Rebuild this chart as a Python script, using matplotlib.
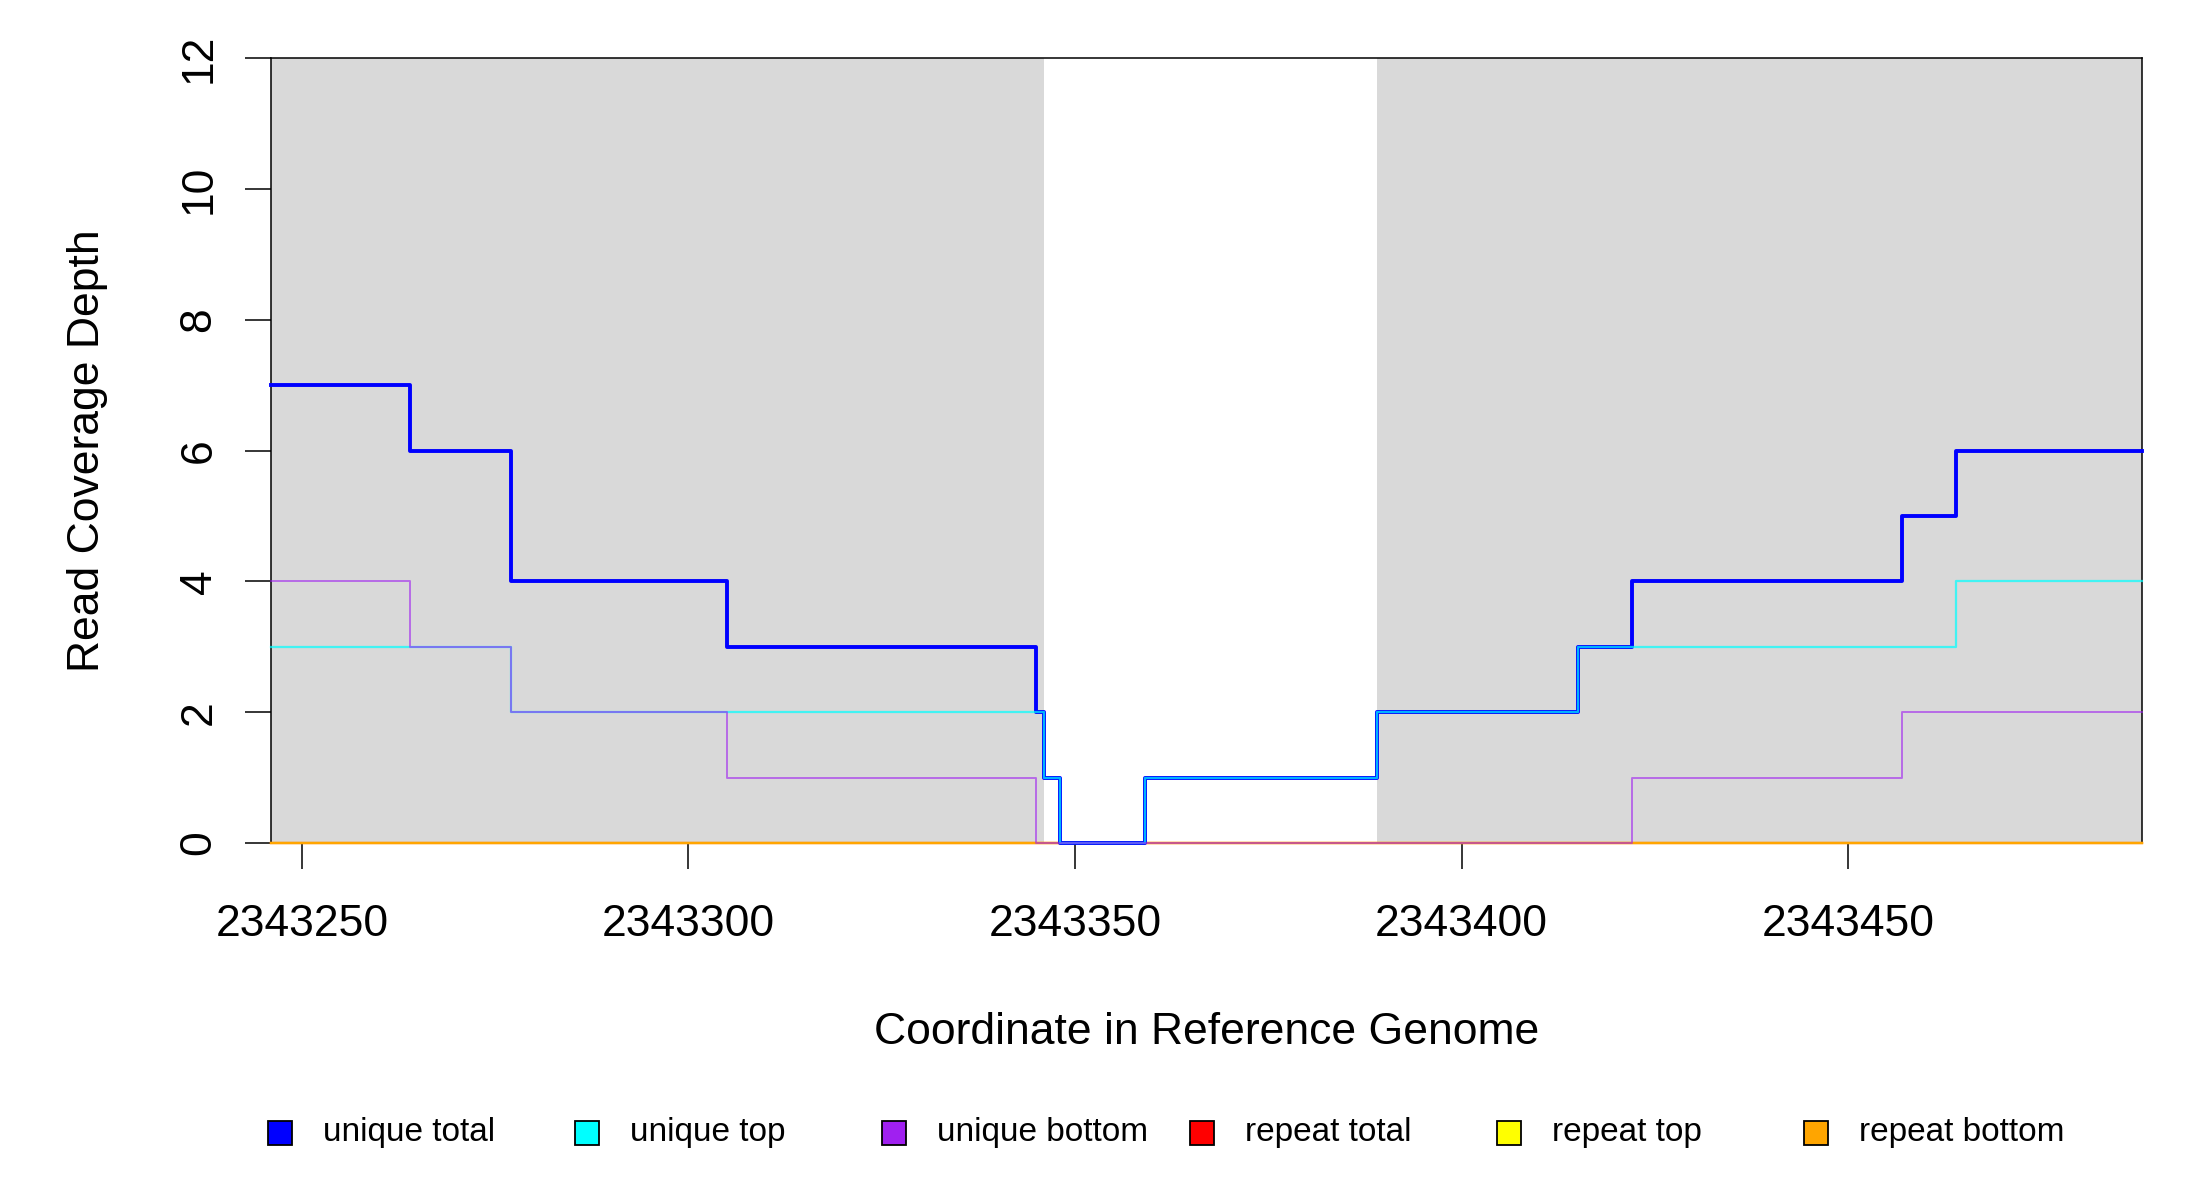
import matplotlib
matplotlib.use('Agg')
import matplotlib.pyplot as plt
from matplotlib.patches import Rectangle

plt.rcParams['font.family'] = ['Liberation Sans', 'DejaVu Sans']

# coverage breakpoints (step starts) and depths
positions = [2343246, 2343264, 2343277, 2343305, 2343345, 2343346, 2343348,
             2343359, 2343389, 2343415, 2343422, 2343457, 2343464, 2343488]
unique_total = [7, 6, 4, 3, 2, 1, 0, 1, 2, 3, 4, 5, 6, 6]
unique_top = [3, 3, 2, 2, 2, 1, 0, 1, 2, 3, 3, 3, 4, 4]
unique_bottom = [4, 3, 2, 1, 0, 0, 0, 0, 0, 0, 1, 2, 2, 2]
repeat_total = [0, 0, 0, 0, 0, 0, 0, 0, 0, 0, 0, 0, 0, 0]
repeat_top = [0, 0, 0, 0, 0, 0, 0, 0, 0, 0, 0, 0, 0, 0]
repeat_bottom = [0, 0, 0, 0, 0, 0, 0, 0, 0, 0, 0, 0, 0, 0]

# shaded (gray) regions
shade_starts = [2343246, 2343389]
shade_ends = [2343346, 2343488]

x_ticks = [2343250, 2343300, 2343350, 2343400, 2343450]
y_ticks = [0, 2, 4, 6, 8, 10, 12]

legend_labels = ['unique total', 'unique top', 'unique bottom',
                 'repeat total', 'repeat top', 'repeat bottom']
legend_colors = ['#0000ff', '#00ffff', '#a020f0', '#ff0000', '#ffff00', '#ffa500']

fig = plt.figure(figsize=(22, 12), dpi=100)
ax = fig.add_axes([271 / 2200, 1 - 843 / 1200, (2142 - 271) / 2200, (843 - 58) / 1200])

for s, e in zip(shade_starts, shade_ends):
    ax.axvspan(s, e, color='#d9d9d9', lw=0, zorder=0)

# repeat series first, unique ones over them
kw = dict(where='post', clip_on=False)
ax.step(positions, repeat_total, color='#ff0000', lw=1.6, zorder=7, **kw)
ax.step(positions, repeat_top, color='#ffff00', lw=1.6, zorder=7, **kw)
ax.step(positions, repeat_bottom, color='#ffa500', lw=1.6, zorder=7, **kw)
ax.step(positions, unique_total, color='#0000ff', lw=2.8, zorder=8, **kw)
ax.step(positions, unique_top, color='#00ffff', lw=1.6, alpha=0.7, zorder=9, **kw)
ax.step(positions, unique_bottom, color='#a020f0', lw=1.4, alpha=0.6, zorder=10, **kw)

ax.set_xlim(positions[0], positions[-1])
ax.set_ylim(0, 12)
ax.set_xticks(x_ticks)
ax.set_yticks(y_ticks)
ax.ticklabel_format(axis='x', useOffset=False, style='plain')
ax.tick_params(axis='both', direction='out', length=19, width=1.1, labelsize=32)
ax.tick_params(axis='x', pad=25)
ax.tick_params(axis='y', pad=18)
for lab in ax.get_yticklabels():
    lab.set_rotation(90)
    lab.set_va('center')

for sp in ax.spines.values():
    sp.set_linewidth(1.1)
    sp.set_zorder(6)

ax.set_xlabel('Coordinate in Reference Genome', fontsize=32)
ax.set_ylabel('Read Coverage Depth', fontsize=32)
ax.xaxis.set_label_coords(0.5, -0.241)
ax.xaxis.label.set_va('center')
ax.yaxis.set_label_coords(-0.0983, 0.5)
ax.yaxis.label.set_va('center')

# legend laid out in equal slots along the bottom
y_leg = (1200 - 1133) / 1200
sq_w = 24 / 2200
sq_h = 24 / 1200
for i, (lab, col) in enumerate(zip(legend_labels, legend_colors)):
    x0 = (268 + i * 307.2) / 2200
    fig.patches.append(Rectangle((x0, y_leg - sq_h / 2), sq_w, sq_h,
                                 transform=fig.transFigure, facecolor=col,
                                 edgecolor='black', lw=1.3))
    fig.text(x0 + 55 / 2200, y_leg, lab, fontsize=24, va='center', ha='left')

fig.savefig('out.png', dpi=100, facecolor='white')
